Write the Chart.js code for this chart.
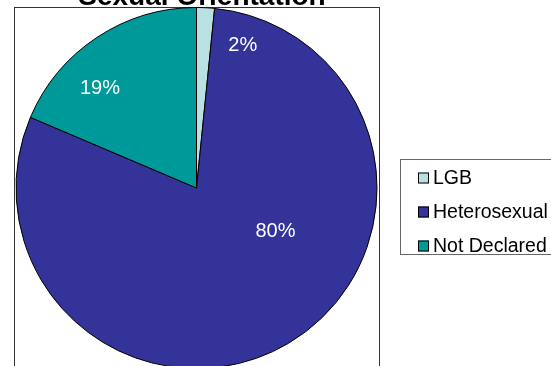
<!DOCTYPE html>
<html>
<head>
<meta charset="utf-8">
<script src="https://cdn.jsdelivr.net/npm/chart.js@4"></script>
<style>
  html, body { margin: 0; padding: 0; background: #fff; overflow: hidden; }
  #wrap { position: relative; width: 551px; height: 380px; }
</style>
</head>
<body>
<div id="wrap"><canvas id="pie"></canvas></div>
<script>
const title = "Sexual Orientation";
const categories = ["LGB", "Heterosexual", "Not Declared"];
const shares = [1.6, 79.8, 18.6];
const colors = ["#b9e1e2", "#333399", "#009999"];

// where each percentage sits: degrees clockwise from 12 o'clock, fraction of radius
const labelAngle = [18, 119, -44];
const labelDist = [0.83, 0.5, 0.77];

const font = "Arial, 'Liberation Sans', sans-serif";

const frame = {
  id: "frame",
  beforeDraw(chart) {
    const { ctx, chartArea: a } = chart;
    ctx.save();
    ctx.strokeStyle = "#333";
    ctx.lineWidth = 1;
    ctx.strokeRect(a.left + 0.5, a.top + 0.5, a.right - a.left, a.bottom - a.top);
    ctx.restore();
  },
  afterDraw(chart) {
    const ctx = chart.ctx;
    ctx.save();
    // title, mostly above the top edge
    ctx.fillStyle = "#000";
    ctx.font = "bold 28px " + font;
    ctx.textAlign = "center";
    ctx.textBaseline = "alphabetic";
    ctx.fillText(title, 202, 5);

    // legend box
    ctx.strokeStyle = "#666";
    ctx.lineWidth = 1;
    ctx.strokeRect(400.5, 159.5, 160, 95);
    ctx.font = "19.5px " + font;
    ctx.textAlign = "left";
    ctx.textBaseline = "middle";
    categories.forEach((c, i) => {
      const y = 177.5 + i * 34;
      ctx.fillStyle = colors[i];
      ctx.fillRect(418, y - 5, 11, 11);
      ctx.strokeStyle = "#000";
      ctx.strokeRect(418.5, y - 4.5, 10, 10);
      ctx.fillStyle = "#000";
      ctx.fillText(c, 433, y + 1);
    });
    ctx.restore();
  },
  afterDatasetsDraw(chart) {
    const ctx = chart.ctx;
    const arcs = chart.getDatasetMeta(0).data;
    ctx.save();
    ctx.fillStyle = "#fff";
    ctx.font = "20px " + font;
    ctx.textAlign = "center";
    ctx.textBaseline = "middle";
    arcs.forEach((arc, i) => {
      const t = labelAngle[i] * Math.PI / 180;
      const r = arc.outerRadius * labelDist[i];
      const x = arc.x + r * Math.sin(t);
      const y = arc.y - r * Math.cos(t);
      ctx.fillText(Math.round(shares[i]) + "%", x, y);
    });
    ctx.restore();
  }
};

new Chart(document.getElementById("pie"), {
  type: "pie",
  data: {
    labels: categories,
    datasets: [{
      data: shares,
      backgroundColor: colors,
      borderColor: "#000",
      borderWidth: 1,
    }],
  },
  options: {
    responsive: true,
    maintainAspectRatio: false,
    animation: false,
    layout: { padding: { left: 14, top: 7, right: 172, bottom: 11 } },
    plugins: {
      legend: { display: false },
      title: { display: false },
      tooltip: { enabled: false },
    },
  },
  plugins: [frame],
});
</script>
</body>
</html>
